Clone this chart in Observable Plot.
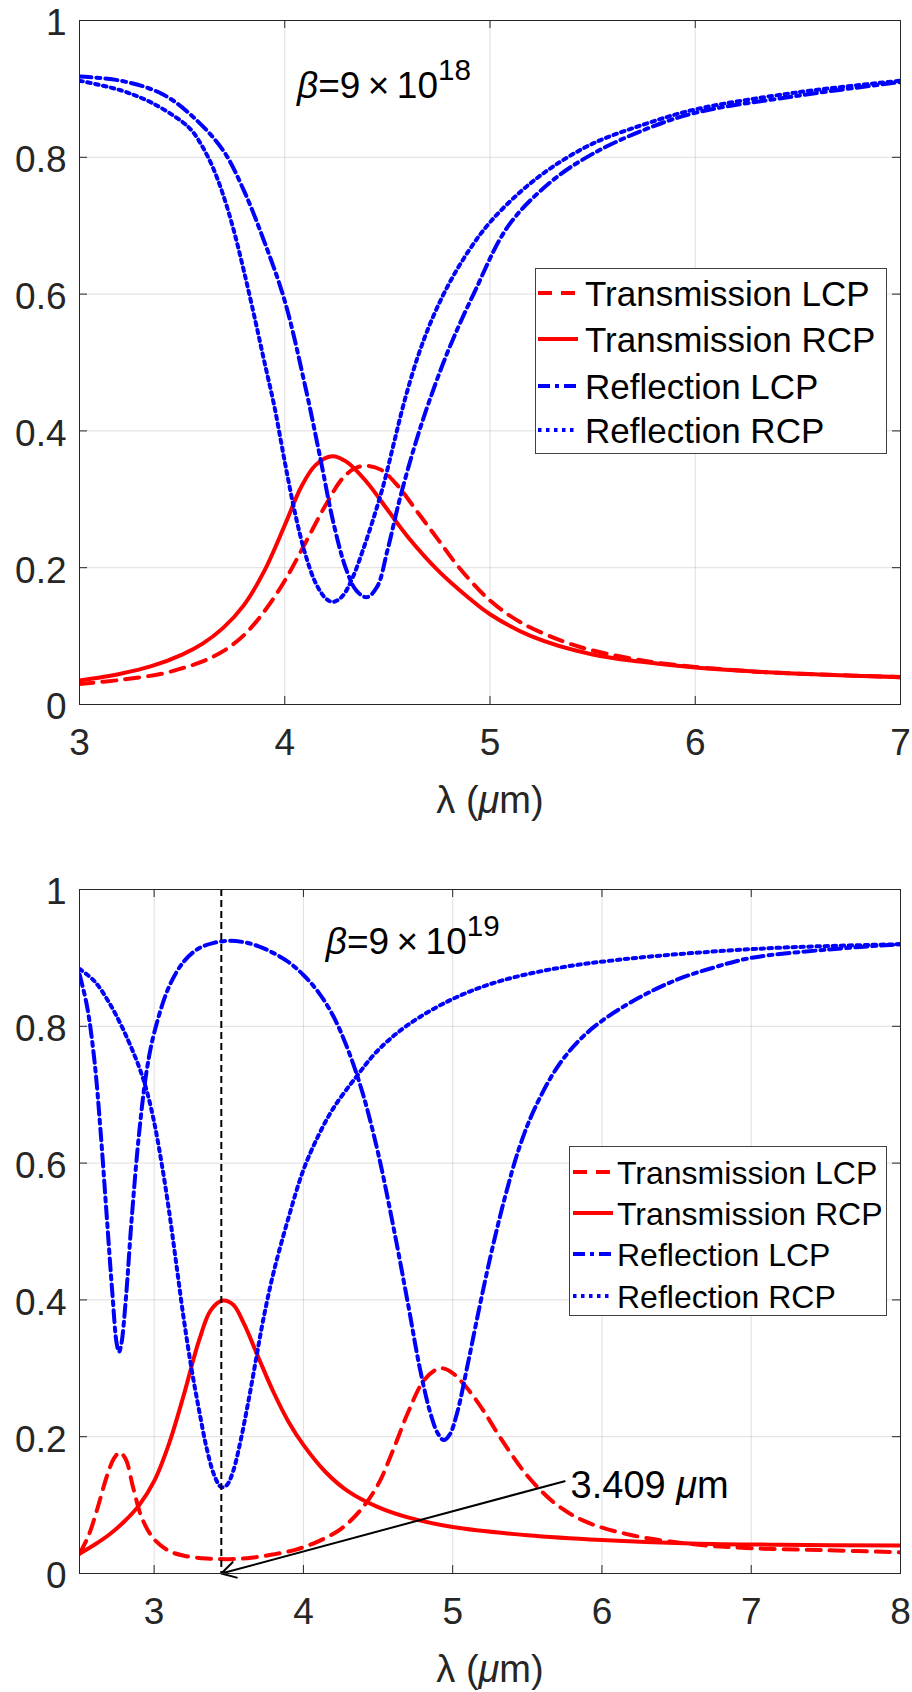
<!DOCTYPE html>
<html><head><meta charset="utf-8">
<script src="https://cdn.jsdelivr.net/npm/d3@7"></script>
<script src="https://cdn.jsdelivr.net/npm/@observablehq/plot@0.6"></script>
<style>
html,body{margin:0;padding:0;background:#fff;}
.panel{position:relative;width:912px;}
.panel svg{display:block;}
</style></head><body>
<div id="chart"></div>
<script>
// ---------- DATA ----------
const seriesNames = ["Transmission LCP", "Transmission RCP", "Reflection LCP", "Reflection RCP"];
const yTicks = [0, 0.2, 0.4, 0.6, 0.8, 1];
const yTickLabels = ["0", "0.2", "0.4", "0.6", "0.8", "1"];
const topXTicks = [3, 4, 5, 6, 7];
const topXTickLabels = ["3", "4", "5", "6", "7"];
const botXTicks = [3, 4, 5, 6, 7, 8];
const botXTickLabels = ["3", "4", "5", "6", "7", "8"];
const xLabel = "λ (μm)";
const topNote = "β=9\u2009×\u200910^18";
const botNote = "β=9\u2009×\u200910^19";
const botArrowLabel = "3.409 μm";
const botMarkerX = [3.45];

// top panel (beta = 9e18), lambda 3..7
const topTLCP = [[3.0,0.030],[3.2,0.036],[3.4,0.045],[3.5,0.053],[3.6,0.063],[3.7,0.078],[3.8,0.101],[3.9,0.136],[4.0,0.181],[4.1,0.236],[4.2,0.292],[4.28,0.330],[4.34,0.345],[4.40,0.349],[4.47,0.343],[4.55,0.320],[4.65,0.280],[4.75,0.240],[4.85,0.200],[5.0,0.152],[5.15,0.120],[5.35,0.093],[5.5,0.079],[5.75,0.064],[6.0,0.055],[6.3,0.048],[6.6,0.044],[7.0,0.040]];
const topTRCP = [[3.0,0.035],[3.2,0.045],[3.35,0.056],[3.5,0.073],[3.6,0.089],[3.7,0.112],[3.8,0.145],[3.9,0.195],[4.0,0.262],[4.08,0.318],[4.15,0.350],[4.23,0.363],[4.30,0.355],[4.40,0.325],[4.50,0.285],[4.60,0.245],[4.75,0.195],[4.9,0.155],[5.0,0.132],[5.2,0.100],[5.5,0.073],[5.75,0.062],[6.0,0.054],[6.3,0.048],[6.6,0.044],[7.0,0.040]];
const topRLCP = [[3.0,0.918],[3.2,0.912],[3.4,0.893],[3.55,0.860],[3.7,0.810],[3.8,0.752],[3.9,0.677],[4.0,0.590],[4.1,0.465],[4.17,0.365],[4.24,0.262],[4.30,0.197],[4.35,0.166],[4.40,0.157],[4.45,0.172],[4.50,0.225],[4.56,0.300],[4.63,0.375],[4.70,0.440],[4.80,0.520],[4.92,0.600],[5.09,0.700],[5.30,0.765],[5.50,0.805],[5.75,0.840],[6.0,0.865],[6.5,0.890],[7.0,0.910]];
const topRRCP = [[3.0,0.912],[3.2,0.898],[3.35,0.880],[3.5,0.852],[3.55,0.838],[3.6,0.815],[3.65,0.785],[3.7,0.745],[3.75,0.695],[3.8,0.635],[3.85,0.570],[3.90,0.502],[3.95,0.435],[4.0,0.355],[4.05,0.280],[4.10,0.220],[4.15,0.178],[4.20,0.155],[4.235,0.150],[4.28,0.158],[4.33,0.185],[4.38,0.225],[4.43,0.270],[4.48,0.320],[4.53,0.380],[4.58,0.440],[4.65,0.510],[4.72,0.565],[4.80,0.615],[4.90,0.665],[5.0,0.705],[5.15,0.750],[5.30,0.785],[5.5,0.820],[5.75,0.848],[6.0,0.870],[6.5,0.895],[7.0,0.912]];

// bottom panel (beta = 9e19), lambda 2.5..8
const botTLCP = [[2.5,0.029],[2.56,0.055],[2.62,0.095],[2.68,0.140],[2.73,0.168],[2.77,0.177],[2.81,0.167],[2.86,0.125],[2.92,0.080],[3.0,0.050],[3.1,0.033],[3.2,0.026],[3.35,0.022],[3.5,0.021],[3.65,0.023],[3.8,0.028],[3.95,0.035],[4.1,0.047],[4.25,0.065],[4.38,0.092],[4.5,0.130],[4.6,0.180],[4.7,0.235],[4.8,0.280],[4.88,0.297],[4.93,0.300],[5.0,0.293],[5.1,0.270],[5.2,0.240],[5.33,0.195],[5.5,0.143],[5.7,0.100],[5.9,0.075],[6.2,0.056],[6.6,0.043],[7.0,0.037],[7.5,0.034],[8.0,0.031]];
const botTRCP = [[2.5,0.029],[2.6,0.042],[2.7,0.057],[2.8,0.076],[2.9,0.100],[3.0,0.135],[3.1,0.190],[3.2,0.262],[3.3,0.340],[3.38,0.385],[3.46,0.399],[3.53,0.393],[3.6,0.366],[3.7,0.315],[3.8,0.265],[3.9,0.222],[4.0,0.188],[4.15,0.148],[4.3,0.120],[4.5,0.097],[4.7,0.082],[5.0,0.068],[5.5,0.056],[6.0,0.049],[6.6,0.044],[7.2,0.042],[8.0,0.041]];
const botRLCP = [[2.5,0.876],[2.55,0.830],[2.6,0.750],[2.64,0.650],[2.68,0.530],[2.72,0.410],[2.75,0.335],[2.765,0.324],[2.78,0.335],[2.81,0.400],[2.85,0.520],[2.9,0.645],[2.95,0.735],[3.0,0.790],[3.1,0.858],[3.2,0.895],[3.3,0.914],[3.4,0.922],[3.5,0.925],[3.6,0.923],[3.7,0.917],[3.8,0.907],[3.9,0.894],[4.0,0.875],[4.1,0.850],[4.2,0.815],[4.3,0.765],[4.4,0.700],[4.5,0.615],[4.6,0.510],[4.7,0.395],[4.78,0.300],[4.85,0.235],[4.9,0.205],[4.94,0.195],[4.98,0.203],[5.03,0.235],[5.1,0.305],[5.18,0.390],[5.26,0.470],[5.35,0.550],[5.45,0.625],[5.55,0.680],[5.7,0.740],[5.85,0.780],[6.0,0.808],[6.25,0.842],[6.5,0.868],[6.75,0.886],[7.0,0.900],[7.5,0.912],[8.0,0.920]];
const botRRCP = [[2.5,0.884],[2.6,0.866],[2.7,0.834],[2.8,0.792],[2.9,0.740],[2.95,0.706],[3.0,0.660],[3.05,0.600],[3.1,0.530],[3.15,0.450],[3.2,0.370],[3.25,0.300],[3.3,0.240],[3.35,0.185],[3.4,0.145],[3.44,0.128],[3.46,0.126],[3.49,0.130],[3.53,0.150],[3.58,0.195],[3.63,0.250],[3.68,0.310],[3.73,0.370],[3.8,0.440],[3.9,0.520],[4.0,0.590],[4.1,0.640],[4.2,0.680],[4.35,0.725],[4.5,0.765],[4.7,0.802],[5.0,0.840],[5.3,0.865],[5.7,0.885],[6.1,0.897],[6.6,0.907],[7.2,0.915],[8.0,0.920]];

const botArrow = [{x1: 5.75, y1: 0.135, x2: 3.45, y2: 0}];
const botArrowText = [{x: 5.79, y: 0.111, label: botArrowLabel}];

// ---------- STYLES ----------
const FONT = "'Liberation Sans', Arial, Helvetica, sans-serif";
const AXC = "#262626";
const styles = [
  {stroke: "#ff0000", dash: "14,9"},
  {stroke: "#ff0000", dash: null},
  {stroke: "#0000ff", dash: "12,5,4,5"},
  {stroke: "#0000ff", dash: "3.5,4.5"}
];
const LW = 4;

function enrich(svg) {
  const NS = "http://www.w3.org/2000/svg";
  svg.querySelectorAll("text").forEach(t => {
    const s = t.textContent;
    if (!/[βμ^]/.test(s)) return;
    const [base, exp] = s.split("^");
    t.textContent = "";
    for (const part of base.split(/([βμ])/)) {
      if (!part) continue;
      const ts = document.createElementNS(NS, "tspan");
      ts.textContent = part;
      if (part === "β" || part === "μ") ts.setAttribute("font-style", "italic");
      t.appendChild(ts);
    }
    if (exp) {
      const ts = document.createElementNS(NS, "tspan");
      ts.setAttribute("dy", "-0.6em");
      ts.setAttribute("font-size", "0.8em");
      ts.textContent = exp;
      t.appendChild(ts);
    }
  });
}

function legend(panel, L) {
  const NS = "http://www.w3.org/2000/svg";
  const s = document.createElementNS(NS, "svg");
  s.setAttribute("width", L.w); s.setAttribute("height", L.h);
  s.style.position = "absolute"; s.style.left = L.x + "px"; s.style.top = L.y + "px";
  s.style.fontFamily = FONT;
  const r = document.createElementNS(NS, "rect");
  r.setAttribute("x", 0.5); r.setAttribute("y", 0.5);
  r.setAttribute("width", L.w - 1); r.setAttribute("height", L.h - 1);
  r.setAttribute("fill", "#fff"); r.setAttribute("stroke", "#404040"); r.setAttribute("stroke-width", 1);
  s.appendChild(r);
  seriesNames.forEach((name, i) => {
    const cy = L.rows[i];
    const ln = document.createElementNS(NS, "line");
    ln.setAttribute("x1", L.s0); ln.setAttribute("x2", L.s1);
    ln.setAttribute("y1", cy); ln.setAttribute("y2", cy);
    ln.setAttribute("stroke", styles[i].stroke); ln.setAttribute("stroke-width", LW);
    if (styles[i].dash) ln.setAttribute("stroke-dasharray", styles[i].dash);
    s.appendChild(ln);
    const tx = document.createElementNS(NS, "text");
    tx.setAttribute("x", L.tx); tx.setAttribute("y", cy + 0.36 * L.fs);
    tx.setAttribute("font-size", L.fs); tx.setAttribute("fill", "#000");
    tx.textContent = name;
    s.appendChild(tx);
  });
  panel.appendChild(s);
}

function panel(cfg) {
  const frameH = cfg.height - cfg.marginTop - cfg.marginBottom;
  const frameW = 912 - 79 - 12;
  const marks = [
    Plot.gridX(cfg.xTicks, {stroke: AXC, strokeOpacity: 0.15, strokeWidth: 1}),
    Plot.gridY(yTicks, {stroke: AXC, strokeOpacity: 0.15, strokeWidth: 1}),
  ];
  cfg.series.forEach((data, i) => {
    marks.push(Plot.line(data, {x: d => d[0], y: d => d[1], stroke: styles[i].stroke, strokeWidth: LW,
      strokeDasharray: styles[i].dash, curve: "catmull-rom", clip: true}));
  });
  marks.push(...(cfg.extra || []));
  marks.push(
    Plot.frame({stroke: AXC, strokeWidth: 1}),
    Plot.tickX(cfg.xTicks, {x: d => d, insetTop: frameH - 8, stroke: AXC}),
    Plot.tickX(cfg.xTicks, {x: d => d, insetBottom: frameH - 8, stroke: AXC}),
    Plot.tickY(yTicks, {y: d => d, insetLeft: frameW - 8, stroke: AXC}),
    Plot.tickY(yTicks, {y: d => d, insetRight: frameW - 8, stroke: AXC}),
    Plot.axisX(cfg.xTicks, {tickSize: 0, tickPadding: 24, fontSize: 37, label: null, fill: AXC,
      tickFormat: d => cfg.xTickLabels[cfg.xTicks.indexOf(d)]}),
    Plot.axisY(yTicks, {tickSize: 0, tickPadding: 13, fontSize: 37, label: null, fill: AXC, dy: 3,
      tickFormat: d => yTickLabels[yTicks.indexOf(d)]}),
    Plot.text([xLabel], {frameAnchor: "bottom", text: d => d, dy: 108, lineAnchor: "bottom", fontSize: 38, fill: AXC}),
    Plot.text([cfg.note], {x: () => cfg.noteX, y: () => cfg.noteY, text: d => d, textAnchor: "start", lineAnchor: "bottom", fontSize: 37, fill: "#000"})
  );
  const svg = Plot.plot({
    width: 912, height: cfg.height,
    marginLeft: 79, marginRight: 12, marginTop: cfg.marginTop, marginBottom: cfg.marginBottom,
    x: {domain: cfg.xDomain}, y: {domain: [0, 1]},
    style: {fontFamily: FONT, background: "#fff", color: AXC, overflow: "visible"},
    marks
  });
  enrich(svg);
  const div = document.createElement("div");
  div.className = "panel";
  div.appendChild(svg);
  legend(div, cfg.legend);
  return div;
}

const root = document.getElementById("chart");
root.appendChild(panel({
  height: 845, marginTop: 20, marginBottom: 141, xDomain: [3, 7],
  xTicks: topXTicks, xTickLabels: topXTickLabels,
  series: [topTLCP, topTRCP, topRLCP, topRRCP],
  note: topNote, noteX: 4.06, noteY: 0.887,
  legend: {x: 535, y: 268, w: 352, h: 186, rows: [25, 71, 118, 162], s0: 3, s1: 43, tx: 50, fs: 35}
}));
root.appendChild(panel({
  height: 847, marginTop: 44, marginBottom: 119, xDomain: [2.5, 8],
  xTicks: botXTicks, xTickLabels: botXTickLabels,
  series: [botTLCP, botTRCP, botRLCP, botRRCP],
  note: botNote, noteX: 4.15, noteY: 0.906,
  extra: [
    Plot.ruleX(botMarkerX, {x: d => d, stroke: "#000", strokeWidth: 2, strokeDasharray: "7,4"}),
    Plot.arrow(botArrow, {x1: "x1", y1: "y1", x2: "x2", y2: "y2", stroke: "#000", strokeWidth: 2, headLength: 12}),
    Plot.text(botArrowText, {x: "x", y: "y", text: "label", textAnchor: "start", lineAnchor: "bottom", fontSize: 38, fill: "#000"})
  ],
  legend: {x: 569, y: 301, w: 318, h: 170, rows: [26, 67, 108, 150], s0: 4, s1: 44, tx: 48, fs: 32}
}));
</script></body></html>
